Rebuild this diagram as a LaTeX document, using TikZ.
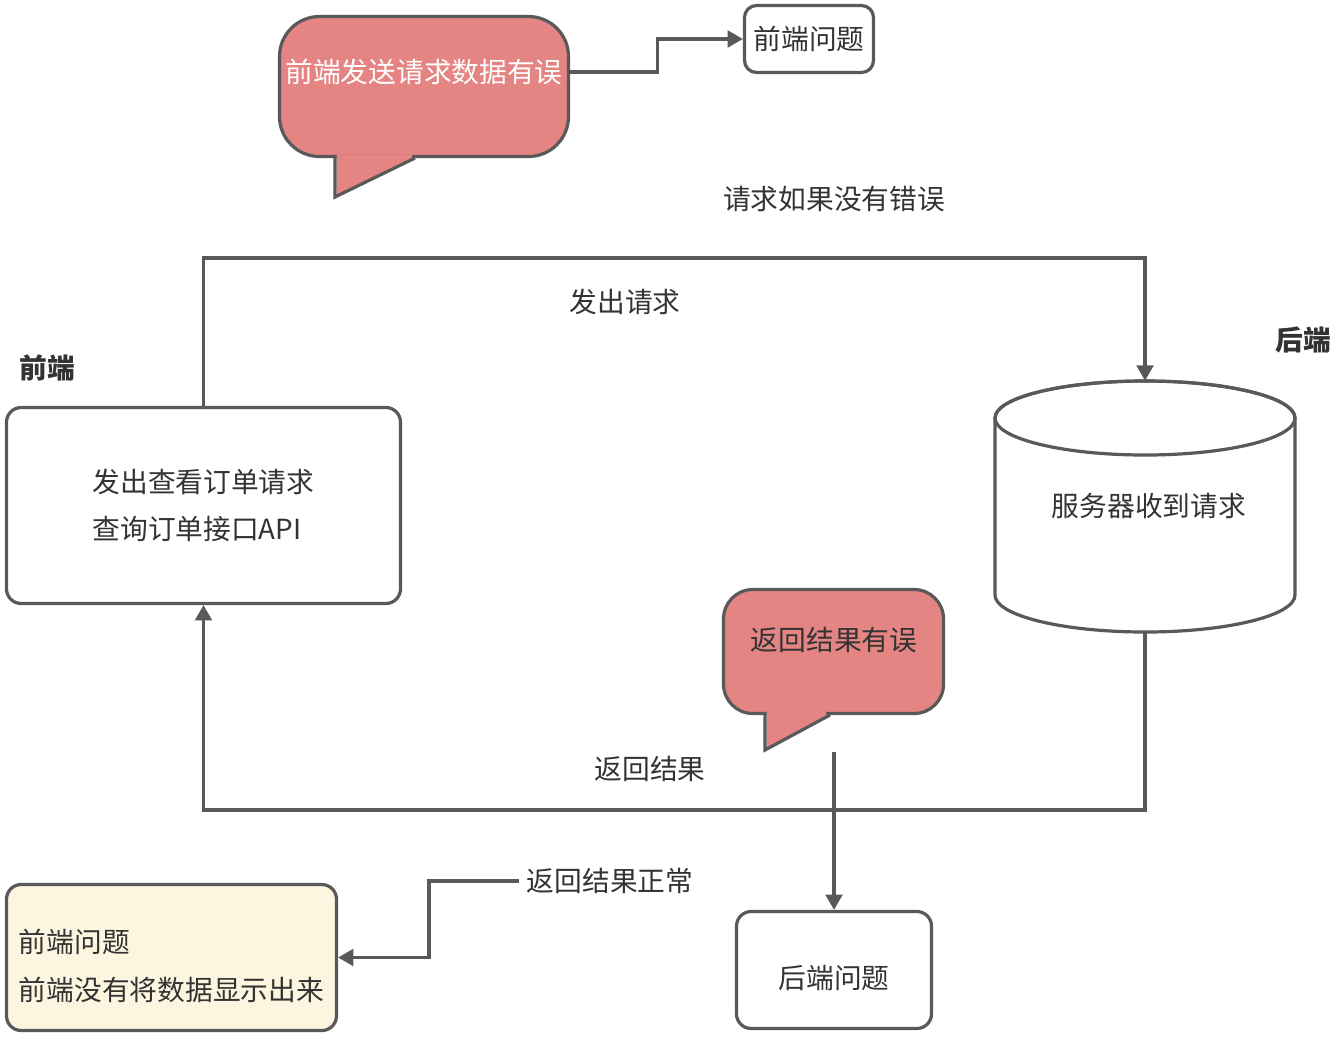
\documentclass[tikz,border=0pt]{standalone}
\usepackage{fontspec}
\setmainfont{Noto Sans CJK SC}
\usetikzlibrary{arrows.meta}
\definecolor{lnc}{HTML}{595959}
\definecolor{calloutc}{HTML}{E48483}
\definecolor{creamc}{HTML}{FCF5DF}
\definecolor{txtc}{HTML}{333333}
\begin{document}
\begin{tikzpicture}[x=0.75pt,y=-0.75pt,
  every node/.style={font=\fontsize{20.8pt}{26pt}\selectfont, text=txtc},
  ln/.style={draw=lnc, line width=2.4pt},
  boxst/.style={ln, rounded corners=11pt, inner sep=0pt, fill=white},
  bub/.style={ln, fill=calloutc, inner sep=0pt},
  conn/.style={ln, line join=miter},
  arr/.style={conn, -{Triangle[length=11.5pt,width=12.5pt]}},
  lbl/.style={inner sep=0pt},
  boldlbl/.style={inner sep=0pt, font=\fontsize{20.8pt}{26pt}\selectfont\bfseries}
]
\useasboundingbox (0,0) rectangle (1344,1036);

% ---- top callout
\node[bub, rounded corners=30pt, minimum width=0.75*289pt, minimum height=0.75*140pt] (c1) at (424,86.5) {};
\fill[calloutc] (336.7,155) -- (336.7,195) -- (412,159.6) -- (412,155) -- cycle;
\draw[conn] (335,156) -- (335,197) -- (415,158);
\node[lbl, text=white] (c1t) at (424,72) {前端发送请求数据有误};

% ---- top right box
\node[boxst, rounded corners=9pt, minimum width=0.75*129pt, minimum height=0.75*67pt] (q1) at (809,39) {前端问题};

% ---- labels
\node[lbl] (l1) at (834,199) {请求如果没有错误};
\node[lbl] (l2) at (625,302) {发出请求};
\node[lbl] (l3) at (650,769) {返回结果};
\node[boldlbl] (l4) at (47,368) {前端};
\node[boldlbl] (l5) at (1303,340) {后端};

% ---- front-end box
\node[boxst, minimum width=0.75*394pt, minimum height=0.75*196pt, align=left,
      font=\fontsize{20.8pt}{35.25pt}\selectfont] (fe) at (203.5,505.5)
      {发出查看订单请求\\查询订单接口API};

% ---- server cylinder
\draw[ln, fill=white] (995,418) -- (995,595)
   arc[start angle=180, end angle=0, x radius=150, y radius=37]
   -- (1295,418)
   arc[start angle=0, end angle=-180, x radius=150, y radius=37];
\draw[ln] (1145,418) ellipse [x radius=150, y radius=37];
\node[inner sep=0pt, minimum width=0.75*300pt, minimum height=0.75*251pt] (srv) at (1145,506.5) {};
\node[lbl] (srvt) at (1149,506) {服务器收到请求};

% ---- second callout
\node[bub, rounded corners=22pt, minimum width=0.75*220pt, minimum height=0.75*124pt] (c2) at (833.5,651.5) {};
\fill[calloutc] (766.7,711) -- (766.7,748) -- (826,715.5) -- (826,711) -- cycle;
\draw[conn] (765,713.5) -- (765,750) -- (830,715);
\node[lbl] (c2t) at (834,640) {返回结果有误};

% ---- back-end problem box
\node[boxst, minimum width=0.75*195pt, minimum height=0.75*117pt] (be) at (834,970) {};
\node[lbl] (bet) at (834,978) {后端问题};

% ---- front-end problem box
\node[boxst, fill=creamc, minimum width=0.75*330pt, minimum height=0.75*146pt] (fp) at (171.5,957.5) {};
\node[lbl, align=left, font=\fontsize{20.8pt}{36pt}\selectfont] (fpt) at (171.5,966) {前端问题\\前端没有将数据显示出来};

\node[lbl] (l6) at (610,881) {返回结果正常};

% ---- coordinates
\coordinate (topY) at (0,258);
\coordinate (botY) at (0,810);
\coordinate (e1) at (834,752);

% ---- connectors
\draw[arr] (c1.east |- c1t.center) -- ++(87,0) |- (q1.west);
\draw[arr] (fe.north) -- (fe.north |- topY) -| (srv.north);
\draw[arr] (srv.south) -- (srv.south |- botY) -| (fe.south);
\draw[arr] (e1) -- (be.north);
\draw[arr] ([xshift=-6pt]l6.west) -- (429,881) |- (fp.east);
\end{tikzpicture}
\end{document}
